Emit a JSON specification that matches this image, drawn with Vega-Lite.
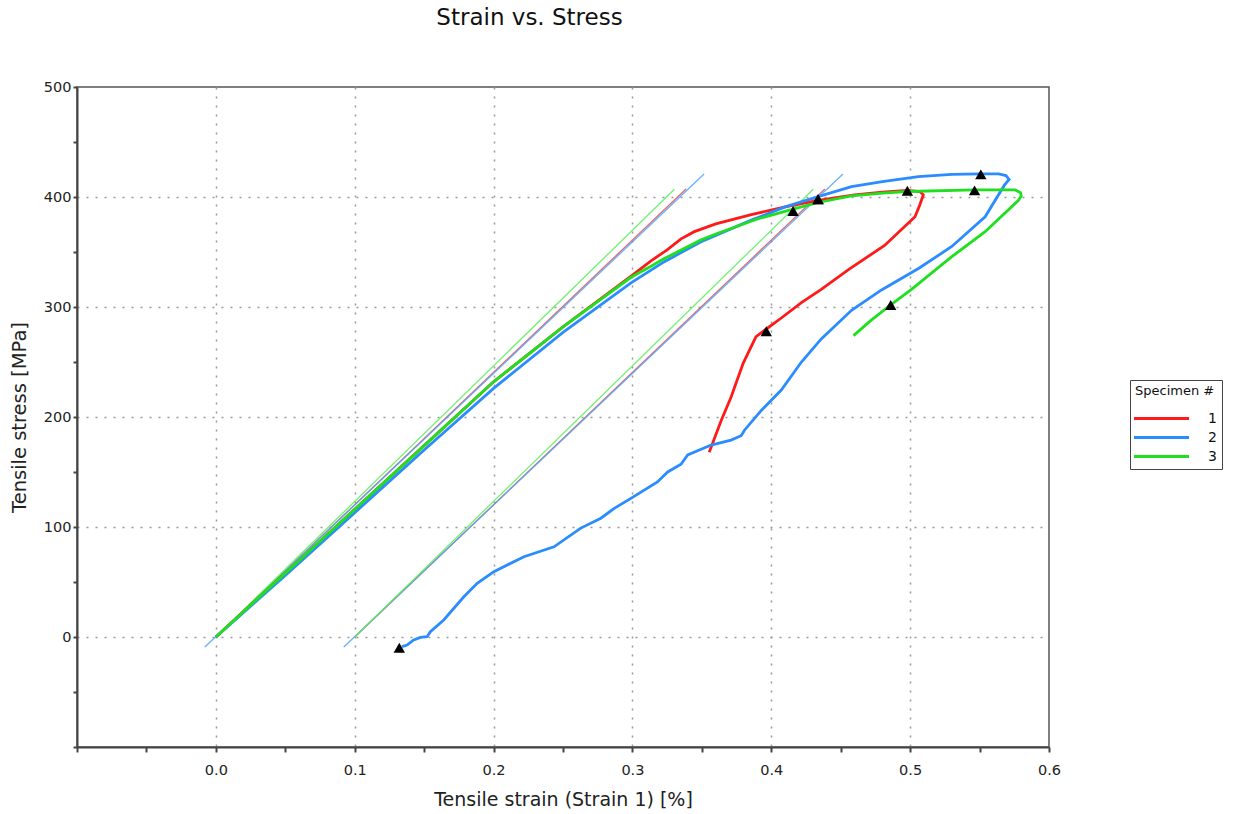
{
  "$schema": "https://vega.github.io/schema/vega-lite/v6.json",
  "width": 972,
  "height": 660,
  "autosize": {"type": "none"},
  "padding": {"left": 77, "top": 87, "right": 187, "bottom": 67},
  "background": "white",
  "title": {"text": "Strain vs. Stress", "font": "DejaVu Sans", "fontSize": 23, "fontWeight": "normal", "color": "#111", "anchor": "start", "dx": 427, "offset": 49},
  "config": {
    "view": {"stroke": "#555", "strokeWidth": 1.5},
    "font": "DejaVu Sans"
  },
  "datasets": {
    "curves": [
      {"specimen": "1", "i": 0, "strain": 0, "stress": 0},
      {"specimen": "1", "i": 1, "strain": 0.05, "stress": 58},
      {"specimen": "1", "i": 2, "strain": 0.1, "stress": 116},
      {"specimen": "1", "i": 3, "strain": 0.15, "stress": 174},
      {"specimen": "1", "i": 4, "strain": 0.2, "stress": 232},
      {"specimen": "1", "i": 5, "strain": 0.25, "stress": 282},
      {"specimen": "1", "i": 6, "strain": 0.3, "stress": 329},
      {"specimen": "1", "i": 7, "strain": 0.3134, "stress": 342},
      {"specimen": "1", "i": 8, "strain": 0.325, "stress": 352},
      {"specimen": "1", "i": 9, "strain": 0.335, "stress": 362},
      {"specimen": "1", "i": 10, "strain": 0.3446, "stress": 368.5},
      {"specimen": "1", "i": 11, "strain": 0.36, "stress": 375.5},
      {"specimen": "1", "i": 12, "strain": 0.3856, "stress": 384},
      {"specimen": "1", "i": 13, "strain": 0.41, "stress": 391},
      {"specimen": "1", "i": 14, "strain": 0.4337, "stress": 397},
      {"specimen": "1", "i": 15, "strain": 0.46, "stress": 402},
      {"specimen": "1", "i": 16, "strain": 0.48, "stress": 404.5},
      {"specimen": "1", "i": 17, "strain": 0.498, "stress": 406},
      {"specimen": "1", "i": 18, "strain": 0.507, "stress": 405},
      {"specimen": "1", "i": 19, "strain": 0.5095, "stress": 402},
      {"specimen": "1", "i": 20, "strain": 0.507, "stress": 393},
      {"specimen": "1", "i": 21, "strain": 0.5035, "stress": 382},
      {"specimen": "1", "i": 22, "strain": 0.4816, "stress": 356},
      {"specimen": "1", "i": 23, "strain": 0.4556, "stress": 334},
      {"specimen": "1", "i": 24, "strain": 0.436, "stress": 316},
      {"specimen": "1", "i": 25, "strain": 0.4217, "stress": 304},
      {"specimen": "1", "i": 26, "strain": 0.4072, "stress": 290},
      {"specimen": "1", "i": 27, "strain": 0.3964, "stress": 280},
      {"specimen": "1", "i": 28, "strain": 0.389, "stress": 273},
      {"specimen": "1", "i": 29, "strain": 0.3798, "stress": 249},
      {"specimen": "1", "i": 30, "strain": 0.371, "stress": 218},
      {"specimen": "1", "i": 31, "strain": 0.364, "stress": 197},
      {"specimen": "1", "i": 32, "strain": 0.3553, "stress": 168},
      {"specimen": "2", "i": 0, "strain": 0, "stress": 0},
      {"specimen": "2", "i": 1, "strain": 0.05, "stress": 56},
      {"specimen": "2", "i": 2, "strain": 0.1, "stress": 113},
      {"specimen": "2", "i": 3, "strain": 0.15, "stress": 170},
      {"specimen": "2", "i": 4, "strain": 0.2, "stress": 226},
      {"specimen": "2", "i": 5, "strain": 0.25, "stress": 277},
      {"specimen": "2", "i": 6, "strain": 0.299, "stress": 322},
      {"specimen": "2", "i": 7, "strain": 0.3227, "stress": 341},
      {"specimen": "2", "i": 8, "strain": 0.3495, "stress": 359.4},
      {"specimen": "2", "i": 9, "strain": 0.3856, "stress": 379},
      {"specimen": "2", "i": 10, "strain": 0.41, "stress": 391},
      {"specimen": "2", "i": 11, "strain": 0.4337, "stress": 400.3},
      {"specimen": "2", "i": 12, "strain": 0.4578, "stress": 409.4},
      {"specimen": "2", "i": 13, "strain": 0.48, "stress": 414},
      {"specimen": "2", "i": 14, "strain": 0.506, "stress": 418.5},
      {"specimen": "2", "i": 15, "strain": 0.53, "stress": 420.5},
      {"specimen": "2", "i": 16, "strain": 0.5509, "stress": 421},
      {"specimen": "2", "i": 17, "strain": 0.5637, "stress": 421},
      {"specimen": "2", "i": 18, "strain": 0.569, "stress": 419.5},
      {"specimen": "2", "i": 19, "strain": 0.5713, "stress": 416},
      {"specimen": "2", "i": 20, "strain": 0.568, "stress": 411},
      {"specimen": "2", "i": 21, "strain": 0.554, "stress": 382},
      {"specimen": "2", "i": 22, "strain": 0.53, "stress": 355},
      {"specimen": "2", "i": 23, "strain": 0.506, "stress": 335},
      {"specimen": "2", "i": 24, "strain": 0.4794, "stress": 315.5},
      {"specimen": "2", "i": 25, "strain": 0.4578, "stress": 297},
      {"specimen": "2", "i": 26, "strain": 0.436, "stress": 271},
      {"specimen": "2", "i": 27, "strain": 0.4217, "stress": 250},
      {"specimen": "2", "i": 28, "strain": 0.4072, "stress": 224.5},
      {"specimen": "2", "i": 29, "strain": 0.3928, "stress": 206},
      {"specimen": "2", "i": 30, "strain": 0.3807, "stress": 188},
      {"specimen": "2", "i": 31, "strain": 0.3783, "stress": 183},
      {"specimen": "2", "i": 32, "strain": 0.371, "stress": 179},
      {"specimen": "2", "i": 33, "strain": 0.3567, "stress": 174.5},
      {"specimen": "2", "i": 34, "strain": 0.3398, "stress": 165.5},
      {"specimen": "2", "i": 35, "strain": 0.335, "stress": 157},
      {"specimen": "2", "i": 36, "strain": 0.3254, "stress": 150},
      {"specimen": "2", "i": 37, "strain": 0.318, "stress": 141},
      {"specimen": "2", "i": 38, "strain": 0.2989, "stress": 126},
      {"specimen": "2", "i": 39, "strain": 0.2869, "stress": 117},
      {"specimen": "2", "i": 40, "strain": 0.2773, "stress": 108},
      {"specimen": "2", "i": 41, "strain": 0.2628, "stress": 99},
      {"specimen": "2", "i": 42, "strain": 0.2435, "stress": 82},
      {"specimen": "2", "i": 43, "strain": 0.2219, "stress": 73},
      {"specimen": "2", "i": 44, "strain": 0.2002, "stress": 59.4},
      {"specimen": "2", "i": 45, "strain": 0.1882, "stress": 48.8},
      {"specimen": "2", "i": 46, "strain": 0.1786, "stress": 36.6},
      {"specimen": "2", "i": 47, "strain": 0.1641, "stress": 15.5},
      {"specimen": "2", "i": 48, "strain": 0.1545, "stress": 4.8},
      {"specimen": "2", "i": 49, "strain": 0.1521, "stress": 0.3},
      {"specimen": "2", "i": 50, "strain": 0.1473, "stress": -0.3},
      {"specimen": "2", "i": 51, "strain": 0.1425, "stress": -2.7},
      {"specimen": "2", "i": 52, "strain": 0.1377, "stress": -7.3},
      {"specimen": "2", "i": 53, "strain": 0.134, "stress": -8.8},
      {"specimen": "3", "i": 0, "strain": 0, "stress": 0},
      {"specimen": "3", "i": 1, "strain": 0.05, "stress": 58},
      {"specimen": "3", "i": 2, "strain": 0.1, "stress": 116},
      {"specimen": "3", "i": 3, "strain": 0.15, "stress": 174},
      {"specimen": "3", "i": 4, "strain": 0.2, "stress": 232},
      {"specimen": "3", "i": 5, "strain": 0.25, "stress": 282},
      {"specimen": "3", "i": 6, "strain": 0.299, "stress": 327},
      {"specimen": "3", "i": 7, "strain": 0.3134, "stress": 337},
      {"specimen": "3", "i": 8, "strain": 0.323, "stress": 344},
      {"specimen": "3", "i": 9, "strain": 0.3495, "stress": 361},
      {"specimen": "3", "i": 10, "strain": 0.3615, "stress": 367},
      {"specimen": "3", "i": 11, "strain": 0.39, "stress": 380},
      {"specimen": "3", "i": 12, "strain": 0.4157, "stress": 389},
      {"specimen": "3", "i": 13, "strain": 0.4337, "stress": 395},
      {"specimen": "3", "i": 14, "strain": 0.4578, "stress": 401},
      {"specimen": "3", "i": 15, "strain": 0.48, "stress": 403.5},
      {"specimen": "3", "i": 16, "strain": 0.498, "stress": 405},
      {"specimen": "3", "i": 17, "strain": 0.5464, "stress": 406.4},
      {"specimen": "3", "i": 18, "strain": 0.5757, "stress": 406.4},
      {"specimen": "3", "i": 19, "strain": 0.5795, "stress": 404},
      {"specimen": "3", "i": 20, "strain": 0.58, "stress": 401},
      {"specimen": "3", "i": 21, "strain": 0.578, "stress": 397},
      {"specimen": "3", "i": 22, "strain": 0.554, "stress": 368.5},
      {"specimen": "3", "i": 23, "strain": 0.53, "stress": 345.7},
      {"specimen": "3", "i": 24, "strain": 0.518, "stress": 333.6},
      {"specimen": "3", "i": 25, "strain": 0.501, "stress": 316},
      {"specimen": "3", "i": 26, "strain": 0.486, "stress": 302},
      {"specimen": "3", "i": 27, "strain": 0.472, "stress": 288},
      {"specimen": "3", "i": 28, "strain": 0.4592, "stress": 274}
    ],
    "modlines": [
      {"specimen": "1", "line": "1a", "i": 0, "strain": 0, "stress": 0},
      {"specimen": "1", "line": "1a", "i": 1, "strain": 0.3386, "stress": 407.3},
      {"specimen": "1", "line": "1b", "i": 0, "strain": 0.1, "stress": 0},
      {"specimen": "1", "line": "1b", "i": 1, "strain": 0.4386, "stress": 407.3},
      {"specimen": "2", "line": "2a", "i": 0, "strain": -0.0079, "stress": -9.1},
      {"specimen": "2", "line": "2a", "i": 1, "strain": 0.3516, "stress": 420.9},
      {"specimen": "2", "line": "2b", "i": 0, "strain": 0.0921, "stress": -9.1},
      {"specimen": "2", "line": "2b", "i": 1, "strain": 0.4516, "stress": 420.9},
      {"specimen": "3", "line": "3a", "i": 0, "strain": 0, "stress": 0},
      {"specimen": "3", "line": "3a", "i": 1, "strain": 0.3302, "stress": 407},
      {"specimen": "3", "line": "3b", "i": 0, "strain": 0.1, "stress": 0},
      {"specimen": "3", "line": "3b", "i": 1, "strain": 0.4302, "stress": 407}
    ],
    "markers": [
      {"specimen": "3", "strain": 0.4157, "stress": 387.3},
      {"specimen": "1", "strain": 0.4337, "stress": 398},
      {"specimen": "2", "strain": 0.4337, "stress": 398},
      {"specimen": "1", "strain": 0.498, "stress": 405.7},
      {"specimen": "2", "strain": 0.5509, "stress": 420.6},
      {"specimen": "3", "strain": 0.5464, "stress": 406},
      {"specimen": "3", "strain": 0.486, "stress": 301.8},
      {"specimen": "1", "strain": 0.3964, "stress": 278},
      {"specimen": "2", "strain": 0.1321, "stress": -9.8}
    ]
  },
  "encoding": {
    "x": {
      "field": "strain", "type": "quantitative",
      "scale": {"domain": [-0.1, 0.6], "nice": false, "zero": false},
      "axis": {
        "title": "Tensile strain (Strain 1) [%]",
        "values": [-0.1, -0.05, 0, 0.05, 0.1, 0.15, 0.2, 0.25, 0.3, 0.35, 0.4, 0.45, 0.5, 0.55, 0.6],
        "labelExpr": "datum.value > -0.01 && abs(datum.value*10 - round(datum.value*10)) < 0.001 ? format(datum.value, '.1f') : ''",
        "labelFont": "DejaVu Sans", "labelFontSize": 14.5, "labelColor": "#222",
        "titleFont": "DejaVu Sans", "titleFontSize": 19, "titleFontWeight": "normal", "titleColor": "#222",
        "domainColor": "#444", "domainWidth": 2,
        "tickColor": "#444", "tickWidth": 2, "tickSize": 5,
        "labelPadding": 11, "titlePadding": 14,
        "labelFlush": false, "labelOverlap": false,
        "grid": true,
        "gridColor": "#999",
        "gridDash": [2, 7],
        "gridWidth": 1.5,
        "gridOpacity": {"condition": {"test": "datum.value > -0.01 && datum.value < 0.55 && abs(datum.value*10 - round(datum.value*10)) < 0.001", "value": 1}, "value": 0}
      }
    },
    "y": {
      "field": "stress", "type": "quantitative",
      "scale": {"domain": [-100, 500], "nice": false, "zero": false},
      "axis": {
        "title": "Tensile stress [MPa]",
        "values": [-100, -50, 0, 50, 100, 150, 200, 250, 300, 350, 400, 450, 500],
        "labelExpr": "datum.value >= 0 && datum.value % 100 == 0 ? datum.label : ''",
        "labelFont": "DejaVu Sans", "labelFontSize": 14.5, "labelColor": "#222",
        "titleFont": "DejaVu Sans", "titleFontSize": 19.5, "titleFontWeight": "normal", "titleColor": "#222",
        "domainColor": "#444", "domainWidth": 2,
        "tickColor": "#444", "tickWidth": 2, "tickSize": 4,
        "labelPadding": 2, "titlePadding": 14,
        "labelFlush": false, "labelOverlap": false,
        "grid": true,
        "gridColor": "#999",
        "gridDash": [2, 7],
        "gridWidth": 1.5,
        "gridOpacity": {"condition": {"test": "datum.value >= 0 && datum.value < 450 && datum.value % 100 == 0", "value": 1}, "value": 0}
      }
    }
  },
  "layer": [
    {
      "data": {"name": "modlines"},
      "mark": {"type": "line", "strokeWidth": 1.3, "opacity": 0.85},
      "encoding": {
        "detail": {"field": "line"},
        "order": {"field": "i"},
        "color": {"field": "specimen", "type": "nominal", "scale": {"domain": ["1", "2", "3"], "range": ["#e05050", "#4da3ff", "#55ee55"]}, "legend": null}
      }
    },
    {
      "data": {"name": "curves"},
      "mark": {"type": "line", "strokeWidth": 2.8},
      "encoding": {
        "order": {"field": "i"},
        "color": {
          "field": "specimen", "type": "nominal",
          "scale": {"domain": ["1", "2", "3"], "range": ["#ff1a1a", "#2a8cff", "#1fe01f"]},
          "legend": {
            "title": "Specimen #",
            "orient": "none", "legendX": 1053, "legendY": 293,
            "strokeColor": "#444", "fillColor": "white", "padding": 5,
            "titleFont": "DejaVu Sans", "titleFontSize": 13, "titleFontWeight": "normal", "titleColor": "#111",
            "titlePadding": 12,
            "labelFont": "DejaVu Sans", "labelFontSize": 14, "labelColor": "#111",
            "symbolType": "M-3.93,0L3.93,0", "symbolSize": 196, "symbolStrokeWidth": 3,
            "symbolOffset": 18, "labelOffset": 38, "rowPadding": 3
          }
        }
      }
    },
    {
      "data": {"name": "markers"},
      "mark": {"type": "point", "shape": "triangle-up", "filled": true, "color": "black", "size": 130, "opacity": 1},
      "encoding": {}
    }
  ],
  "resolve": {"scale": {"color": "independent"}}
}
